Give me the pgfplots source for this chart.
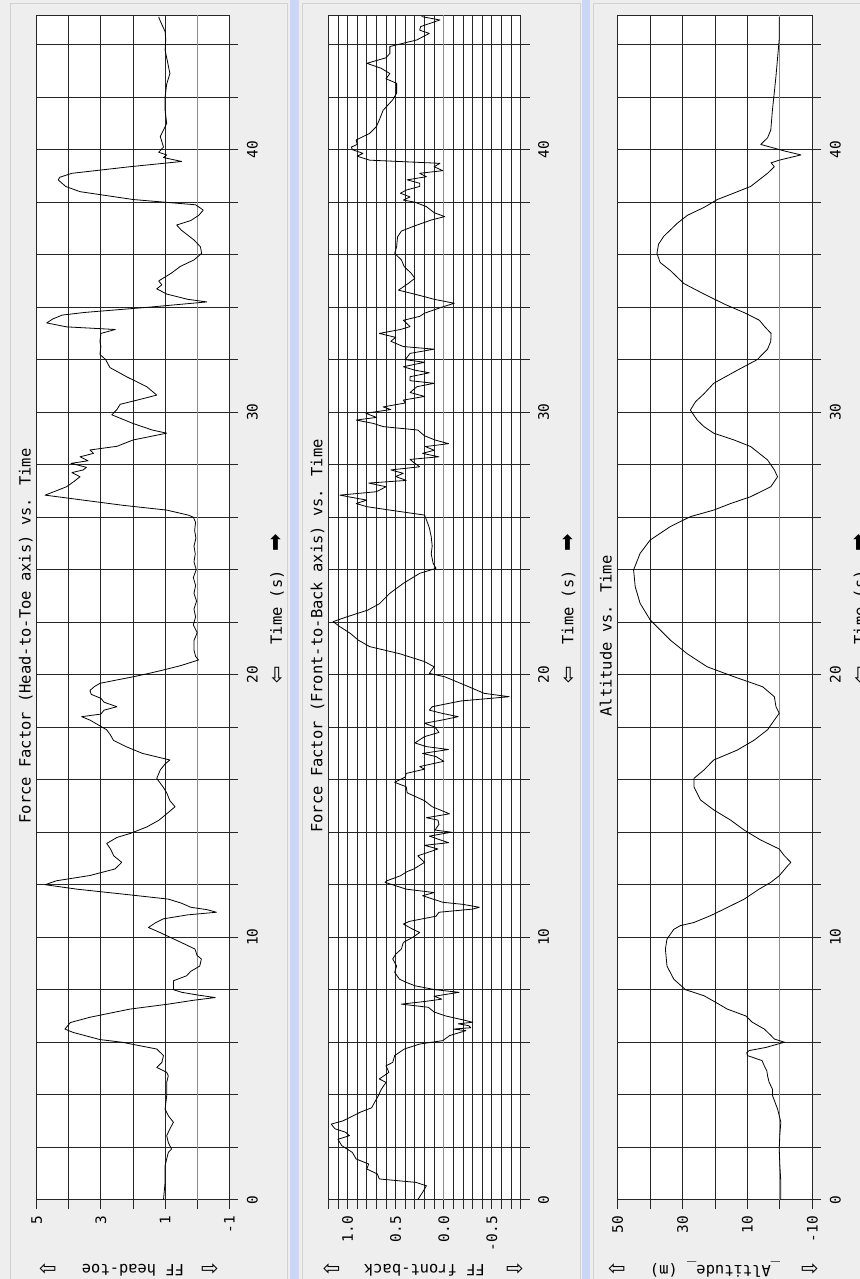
\documentclass[border=0pt]{standalone}
\usepackage{fontspec}
\setmainfont{DejaVu Sans Mono}
\newfontfamily\arrowfont{DejaVu Sans}
\usepackage{pgfplots}
\usepackage{pgfplotstable}
\pgfplotsset{compat=1.18}

\definecolor{panelbg}{HTML}{EEEEEE}
\definecolor{sepblue}{HTML}{CCD6F6}
\definecolor{panelline}{HTML}{D2D2D2}
\definecolor{gridc}{HTML}{262626}
\definecolor{zeroc}{HTML}{8C8C8C}

% time (s) and value read off the three strips
\pgfplotstableread[row sep=\\]{
t v\\
0 1.05\\ 0.66 1.0\\ 1.3 1.0\\ 1.8 0.9\\ 1.93 0.8\\ 2.18 0.9\\ 2.44 0.95\\ 2.7 0.85\\ 2.95 0.74\\
3.2 0.9\\ 3.45 1.0\\ 3.96 0.95\\ 4.47 0.95\\ 4.72 0.9\\ 4.85 0.95\\ 5.04 1.26\\ 5.23 1.1\\
5.49 1.05\\ 5.74 1.26\\ 5.84 1.68\\ 6.0 2.35\\ 6.1 3.03\\ 6.37 3.86\\ 6.5 4.12\\ 6.6 4.05\\
6.75 3.95\\ 6.95 3.34\\ 7.26 2.1\\ 7.45 0.9\\ 7.6 0.1\\ 7.7 -0.56\\ 7.8 0.0\\ 7.9 0.48\\
8.0 0.74\\ 8.34 0.74\\ 8.53 0.33\\ 8.7 0.2\\ 8.9 -0.08\\ 9.17 -0.13\\ 9.3 0.0\\ 9.55 0.07\\
9.8 0.5\\ 10.0 0.85\\ 10.2 1.2\\ 10.37 1.52\\ 10.55 1.3\\ 10.7 1.05\\ 10.85 0.3\\ 10.95 -0.6\\
11.05 -0.3\\ 11.14 0.2\\ 11.3 0.5\\ 11.45 0.9\\ 11.6 2.0\\ 11.83 3.75\\ 12.0 4.74\\ 12.15 4.38\\
12.35 3.34\\ 12.6 2.56\\ 12.85 2.35\\ 13.1 2.6\\ 13.36 2.7\\ 13.57 2.82\\ 13.8 2.5\\ 13.95 2.09\\
14.2 1.57\\ 14.45 1.2\\ 14.7 0.95\\ 14.97 0.69\\ 15.2 0.85\\ 15.5 0.95\\ 15.7 1.05\\ 16.05 1.26\\
16.37 1.15\\ 16.6 1.0\\ 16.75 0.85\\ 17.0 1.7\\ 17.25 2.2\\ 17.5 2.61\\ 17.7 2.7\\ 17.9 2.82\\
18.1 3.1\\ 18.27 3.34\\ 18.4 3.6\\ 18.5 3.0\\ 18.65 2.9\\ 18.78 2.5\\ 18.95 2.9\\ 19.1 3.0\\
19.25 3.3\\ 19.4 3.34\\ 19.55 3.2\\ 19.67 3.03\\ 19.8 2.5\\ 19.92 1.99\\ 20.05 1.5\\ 20.18 1.05\\
20.35 0.5\\ 20.56 -0.04\\ 20.7 0.05\\ 20.94 0.1\\ 21.3 0.1\\ 21.6 0.0\\ 21.9 0.12\\ 22.2 0.05\\
22.5 0.1\\ 22.8 0.02\\ 23.1 0.1\\ 23.4 0.05\\ 23.7 0.12\\ 24.0 0.03\\ 24.3 0.1\\ 24.6 0.06\\
24.9 0.1\\ 25.2 0.04\\ 25.5 0.08\\ 25.8 0.05\\ 26.0 0.12\\ 26.08 0.28\\ 26.27 0.95\\ 26.45 2.3\\
26.65 3.55\\ 26.84 4.74\\ 27.0 4.4\\ 27.16 4.07\\ 27.35 3.85\\ 27.54 3.65\\ 27.7 3.9\\ 27.8 3.55\\
27.9 3.45\\ 28.05 3.93\\ 28.15 3.4\\ 28.3 3.65\\ 28.43 3.23\\ 28.56 3.34\\ 28.7 2.5\\ 28.94 2.0\\
29.2 0.95\\ 29.32 1.4\\ 29.57 2.0\\ 29.9 2.66\\ 30.1 2.5\\ 30.3 2.4\\ 30.45 1.9\\ 30.65 1.26\\
30.97 1.57\\ 31.35 2.2\\ 31.7 2.72\\ 32.0 2.85\\ 32.2 3.03\\ 32.5 3.0\\ 32.7 3.03\\ 33.0 3.0\\
33.15 2.55\\ 33.25 4.07\\ 33.4 4.69\\ 33.55 4.5\\ 33.7 4.2\\ 33.8 3.5\\ 34.0 1.5\\ 34.2 -0.3\\
34.3 0.3\\ 34.5 0.95\\ 34.7 1.26\\ 34.85 1.1\\ 35.0 1.2\\ 35.3 0.8\\ 35.55 0.53\\ 35.8 0.1\\
36.05 -0.14\\ 36.3 -0.1\\ 36.56 0.1\\ 36.94 0.5\\ 37.13 0.64\\ 37.3 0.2\\ 37.5 -0.05\\ 37.7 -0.19\\
37.9 0.05\\ 38.1 1.99\\ 38.4 3.65\\ 38.6 4.1\\ 38.85 4.33\\ 38.95 4.28\\ 39.1 3.9\\ 39.35 2.1\\
39.55 0.48\\ 39.7 1.05\\ 39.8 0.95\\ 39.9 1.2\\ 40.1 1.05\\ 40.5 1.15\\ 41.0 0.95\\ 41.5 1.0\\
42.0 1.0\\ 42.5 0.95\\ 42.9 0.85\\ 43.2 0.9\\ 43.8 1.0\\ 44.2 0.98\\ 44.5 1.0\\ 44.9 1.15\\ 45.06 1.2\\
}\headtoe

\pgfplotstableread[row sep=\\]{
t v\\
0 0.27\\ 0.28 0.22\\ 0.53 0.18\\ 0.66 0.29\\ 0.79 0.67\\ 0.98 0.69\\ 1.17 0.8\\ 1.36 0.78\\
1.55 0.91\\ 1.8 0.95\\ 2.06 1.06\\ 2.3 1.1\\ 2.44 0.98\\ 2.57 1.02\\ 2.7 1.13\\ 2.88 1.17\\
3.0 1.05\\ 3.2 0.94\\ 3.33 0.87\\ 3.5 0.75\\ 3.7 0.72\\ 3.96 0.68\\ 4.2 0.65\\ 4.47 0.6\\
4.6 0.67\\ 4.85 0.57\\ 5.1 0.6\\ 5.23 0.53\\ 5.49 0.51\\ 5.74 0.41\\ 5.93 0.25\\ 6.06 0.01\\
6.25 -0.06\\ 6.35 -0.15\\ 6.44 -0.23\\ 6.5 -0.1\\ 6.55 -0.28\\ 6.63 -0.26\\ 6.7 -0.15\\ 6.76 -0.3\\
6.85 -0.2\\ 7.0 -0.02\\ 7.15 0.1\\ 7.33 0.16\\ 7.45 0.44\\ 7.55 0.2\\ 7.64 0.02\\ 7.75 0.1\\
7.9 -0.16\\ 8.0 0.09\\ 8.15 0.3\\ 8.28 0.39\\ 8.4 0.46\\ 8.66 0.51\\ 8.9 0.49\\ 9.17 0.53\\
9.35 0.5\\ 9.55 0.44\\ 9.8 0.42\\ 10.0 0.32\\ 10.18 0.25\\ 10.3 0.32\\ 10.5 0.42\\ 10.6 0.36\\
10.8 0.08\\ 10.95 0.05\\ 11.07 -0.3\\ 11.14 -0.37\\ 11.25 -0.2\\ 11.33 0.01\\ 11.58 0.22\\ 11.7 0.1\\
11.83 0.39\\ 12.09 0.61\\ 12.15 0.59\\ 12.34 0.45\\ 12.5 0.38\\ 12.6 0.31\\ 12.85 0.2\\ 13.1 0.27\\
13.36 0.06\\ 13.5 0.2\\ 13.6 -0.05\\ 13.7 0.03\\ 13.85 0.15\\ 14.0 -0.08\\ 14.08 0.09\\ 14.3 0.05\\
14.46 0.06\\ 14.55 0.18\\ 14.7 -0.06\\ 14.97 0.12\\ 15.2 0.2\\ 15.35 0.29\\ 15.5 0.38\\ 15.73 0.39\\
15.9 0.51\\ 16.1 0.4\\ 16.24 0.39\\ 16.4 0.2\\ 16.5 0.25\\ 16.7 0.0\\ 16.88 0.08\\ 17.0 0.22\\
17.15 -0.05\\ 17.26 0.18\\ 17.4 0.3\\ 17.64 0.2\\ 17.8 0.05\\ 18.0 0.09\\ 18.15 0.2\\ 18.27 0.02\\
18.4 -0.15\\ 18.53 0.02\\ 18.65 0.15\\ 18.78 0.12\\ 19.0 -0.18\\ 19.16 -0.68\\ 19.29 -0.42\\ 19.54 -0.26\\
19.8 -0.09\\ 19.92 -0.01\\ 20.05 0.15\\ 20.3 0.1\\ 20.5 0.2\\ 20.8 0.46\\ 21.07 0.77\\ 21.32 0.89\\
21.57 0.97\\ 21.83 1.08\\ 22.02 1.15\\ 22.2 1.01\\ 22.46 0.79\\ 22.7 0.67\\ 23.1 0.56\\ 23.48 0.42\\
23.86 0.25\\ 24.05 0.08\\ 24.24 0.11\\ 24.6 0.13\\ 24.9 0.12\\ 25.25 0.13\\ 25.6 0.15\\ 25.9 0.18\\
26.08 0.2\\ 26.27 0.56\\ 26.4 0.8\\ 26.52 0.91\\ 26.65 0.8\\ 26.75 0.95\\ 26.84 1.08\\ 26.97 0.7\\
27.16 0.6\\ 27.3 0.78\\ 27.4 0.39\\ 27.55 0.5\\ 27.67 0.42\\ 27.8 0.55\\ 27.92 0.25\\ 28.05 0.3\\
28.2 0.35\\ 28.3 0.05\\ 28.43 0.22\\ 28.55 0.1\\ 28.69 0.19\\ 28.8 -0.05\\ 28.94 0.09\\ 29.1 0.2\\
29.32 0.27\\ 29.45 0.63\\ 29.57 0.73\\ 29.7 0.91\\ 29.8 0.7\\ 29.96 0.81\\ 30.1 0.55\\ 30.2 0.63\\
30.35 0.4\\ 30.46 0.42\\ 30.6 0.2\\ 30.75 0.35\\ 30.97 0.28\\ 31.1 0.1\\ 31.2 0.35\\ 31.35 0.35\\
31.5 0.15\\ 31.6 0.3\\ 31.73 0.42\\ 31.9 0.2\\ 32.0 0.4\\ 32.24 0.35\\ 32.4 0.1\\ 32.5 0.42\\
32.7 0.55\\ 32.85 0.5\\ 33.0 0.67\\ 33.15 0.45\\ 33.26 0.35\\ 33.5 0.42\\ 33.65 0.25\\ 33.77 0.2\\
34.0 0.02\\ 34.15 -0.11\\ 34.3 0.1\\ 34.4 0.2\\ 34.65 0.47\\ 34.9 0.37\\ 35.1 0.3\\ 35.3 0.34\\
35.54 0.41\\ 35.8 0.44\\ 36.05 0.51\\ 36.3 0.49\\ 36.68 0.48\\ 36.9 0.44\\ 37.1 0.3\\ 37.32 0.13\\
37.45 -0.01\\ 37.6 0.1\\ 37.83 0.18\\ 38.0 0.3\\ 38.08 0.42\\ 38.2 0.35\\ 38.34 0.45\\ 38.46 0.39\\
38.6 0.25\\ 38.72 0.25\\ 38.85 0.38\\ 38.97 0.18\\ 39.1 0.25\\ 39.2 0.01\\ 39.35 0.1\\ 39.48 0.04\\
39.6 0.77\\ 39.75 0.9\\ 39.86 0.84\\ 40.0 0.95\\ 40.1 0.96\\ 40.2 0.9\\ 40.37 0.91\\ 40.62 0.77\\
40.88 0.7\\ 41.13 0.67\\ 41.5 0.63\\ 41.9 0.53\\ 42.15 0.49\\ 42.53 0.49\\ 42.7 0.6\\ 42.9 0.56\\
43.1 0.65\\ 43.29 0.8\\ 43.5 0.6\\ 43.67 0.56\\ 43.93 0.56\\ 44.18 0.28\\ 44.43 0.15\\ 44.55 0.25\\
44.69 0.24\\ 44.94 0.04\\ 45.07 0.23\\
}\frontback

\pgfplotstableread[row sep=\\]{
t v\\
0 -0.3\\ 0.66 -0.3\\ 1.3 0.0\\ 1.93 0.2\\ 2.5 0.0\\ 2.95 -0.3\\ 3.45 0.7\\ 3.96 2.25\\ 4.2 2.25\\
4.47 3.3\\ 4.72 3.8\\ 4.9 4.0\\ 5.1 4.8\\ 5.3 5.5\\ 5.49 10.0\\ 5.6 10.2\\ 5.68 9.5\\ 5.8 4.3\\
6.0 -1.4\\ 6.12 1.7\\ 6.25 2.7\\ 6.5 4.8\\ 6.76 8.5\\ 7.0 10.5\\ 7.26 16.2\\ 7.52 19.8\\ 7.77 23.4\\
8.0 29.1\\ 8.4 32.7\\ 8.9 34.8\\ 9.55 35.3\\ 9.93 34.8\\ 10.3 32.7\\ 10.44 30.7\\ 10.56 26.5\\
10.82 21.4\\ 11.07 17.2\\ 11.45 11.0\\ 11.83 6.4\\ 12.09 2.8\\ 12.34 0.2\\ 12.72 -2.4\\ 12.85 -3.4\\
13.1 -1.4\\ 13.36 0.2\\ 13.7 5.9\\ 14.08 11.0\\ 14.46 15.2\\ 14.85 20.4\\ 15.23 24.5\\ 15.73 26.5\\
16.05 26.5\\ 16.37 23.4\\ 16.75 20.4\\ 17.13 13.1\\ 17.5 8.0\\ 17.9 3.8\\ 18.27 1.7\\ 18.53 0.2\\
18.78 1.2\\ 19.16 1.7\\ 19.54 5.3\\ 19.92 14.1\\ 20.3 22.4\\ 20.8 28.6\\ 21.32 33.8\\ 22.09 40.0\\
22.72 43.1\\ 23.35 44.6\\ 23.99 45.1\\ 24.62 43.1\\ 25.13 40.0\\ 25.64 33.8\\ 26.02 27.6\\ 26.27 20.4\\
26.52 15.2\\ 26.78 9.0\\ 27.16 2.8\\ 27.54 0.7\\ 27.8 1.7\\ 28.18 3.8\\ 28.69 9.0\\ 28.94 14.1\\
29.2 20.4\\ 29.45 23.4\\ 29.7 25.5\\ 30.08 27.6\\ 30.4 26.0\\ 30.7 23.4\\ 31.1 20.4\\ 31.6 13.1\\
32.0 7.0\\ 32.4 3.8\\ 32.7 2.8\\ 33.0 2.7\\ 33.26 4.7\\ 33.5 6.3\\ 33.77 10.6\\ 34.1 16.8\\
34.5 23.4\\ 34.9 29.6\\ 35.4 33.8\\ 35.7 36.9\\ 36.05 37.9\\ 36.4 37.4\\ 36.7 35.8\\ 37.2 31.6\\
37.5 28.5\\ 37.8 23.4\\ 38.1 19.3\\ 38.35 14.1\\ 38.6 9.0\\ 39.1 3.8\\ 39.35 1.7\\ 39.5 2.7\\
39.6 0.2\\ 39.8 -6.5\\ 39.95 -1.4\\ 40.2 5.9\\ 40.45 3.8\\ 40.75 2.8\\ 41.5 2.3\\ 42.2 1.7\\
42.8 1.2\\ 43.5 0.7\\ 44.2 0.2\\ 45.06 0.2\\
}\altitude

% each strip is drawn standing: time runs up, the value runs to the left
\pgfplotsset{
  strip/.style={
    scale only axis, height=1184.7bp, ymin=0, ymax=45.13,
    x dir=reverse, anchor=south west,
    axis background/.style={fill=white},
    axis line style={gridc, line width=0.8bp},
    grid=both,
    major grid style={gridc, line width=0.8bp},
    minor grid style={gridc, line width=0.8bp},
    tick align=outside, xtick pos=bottom, ytick pos=right,
    xticklabel pos=bottom, yticklabel pos=right,
    major tick length=9bp, minor tick length=9bp,
    tick style={gridc, line width=0.8bp},
    ytick={0,10,20,30,40}, yticklabels={0,10,20,30,40},
    minor ytick={2,4,...,44},
    tick label style={font=\fontsize{14.5}{16}\selectfont},
    xticklabel style={yshift=-4bp, rotate=90, anchor=east},
    yticklabel style={xshift=5bp, rotate=90, anchor=north},
    label style={font=\fontsize{15.5}{18}\selectfont},
    title style={font=\fontsize{15.5}{18}\selectfont, rotate=90, anchor=base,
      at={(axis description cs:-0.031,0.4708)}},
    ylabel style={at={(axis description cs:1.248,0.5)}, rotate=0, anchor=center},
    xlabel style={at={(axis description cs:0.5,-0.0593)}, rotate=180, anchor=center},
    ylabel={Time (s)},
  },
  curve/.style={black, line width=0.8bp, line join=round},
}
\newcommand{\arr}[1]{{\arrowfont\fontsize{21}{22}\selectfont #1}}

\begin{document}
\begin{tikzpicture}
\fill[panelbg] (0,0) rectangle (860bp,1279bp);
\filldraw[fill=panelbg, draw=panelline, line width=0.8bp] (10bp,0) rectangle (287bp,1276bp);
\filldraw[fill=panelbg, draw=panelline, line width=0.8bp] (302bp,0) rectangle (580bp,1276bp);
\filldraw[fill=panelbg, draw=panelline, line width=0.8bp] (593bp,0) rectangle (860bp,1276bp);
\fill[sepblue] (290bp,0) rectangle (299bp,1279bp);
\fill[sepblue] (582bp,0) rectangle (590bp,1279bp);

% head-to-toe
\begin{axis}[strip, at={(36.7bp,79.3bp)}, width=192.6bp,
  xmin=-1, xmax=5, xtick={-1,1,3,5}, xticklabels={-1,1,3,5}, minor xtick={0,2,4},
  title={Force Factor (Head-to-Toe axis) vs. Time}, xlabel={FF head-toe}]
\draw[zeroc, line width=0.8bp] (axis cs:0,0) -- (axis cs:0,45.13);
\addplot[curve] table[x=v, y=t] {\headtoe};
\end{axis}

% front-to-back
\begin{axis}[strip, at={(328.3bp,79.3bp)}, width=192.4bp,
  xmin=-0.8, xmax=1.2, xtick={-0.5,0,0.5,1}, xticklabels={-0.5,0.0,0.5,1.0},
  minor xtick={-0.8,-0.7,-0.6,-0.4,-0.3,-0.2,-0.1,0.1,0.2,0.3,0.4,0.6,0.7,0.8,0.9,1.1,1.2},
  title={Force Factor (Front-to-Back axis) vs. Time}, xlabel={FF front-back}]
\draw[zeroc, line width=0.8bp] (axis cs:0,0) -- (axis cs:0,45.13);
\addplot[curve] table[x=v, y=t] {\frontback};
\end{axis}

% altitude
\begin{axis}[strip, at={(617.7bp,79.3bp)}, width=194.6bp,
  xmin=-10, xmax=50, xtick={-10,10,30,50}, xticklabels={-10,10,30,50}, minor xtick={0,20,40},
  title={Altitude vs. Time}, xlabel={\_Altitude\_ (m)}]
\draw[zeroc, line width=0.8bp] (axis cs:0,0) -- (axis cs:0,45.13);
\addplot[curve] table[x=v, y=t] {\altitude};
\end{axis}

% scroll arrows beside the axis labels
\foreach \xl/\xr/\xt in {48/210/277, 331.7/515/568.4, 617/810/860} {
  \node[inner sep=0pt] at (\xl bp,9bp) {\arr{⇦}};
  \node[inner sep=0pt] at (\xr bp,9bp) {\arr{⇨}};
  \node[inner sep=0pt] at (\xt bp,604bp) {\arr{⇩}};
  \node[inner sep=0pt, rotate=90] at (\xt bp,736bp) {\arr{➡}};
}
\pgfresetboundingbox
\useasboundingbox (0,0) rectangle (860bp,1279bp);
\end{tikzpicture}
\end{document}
